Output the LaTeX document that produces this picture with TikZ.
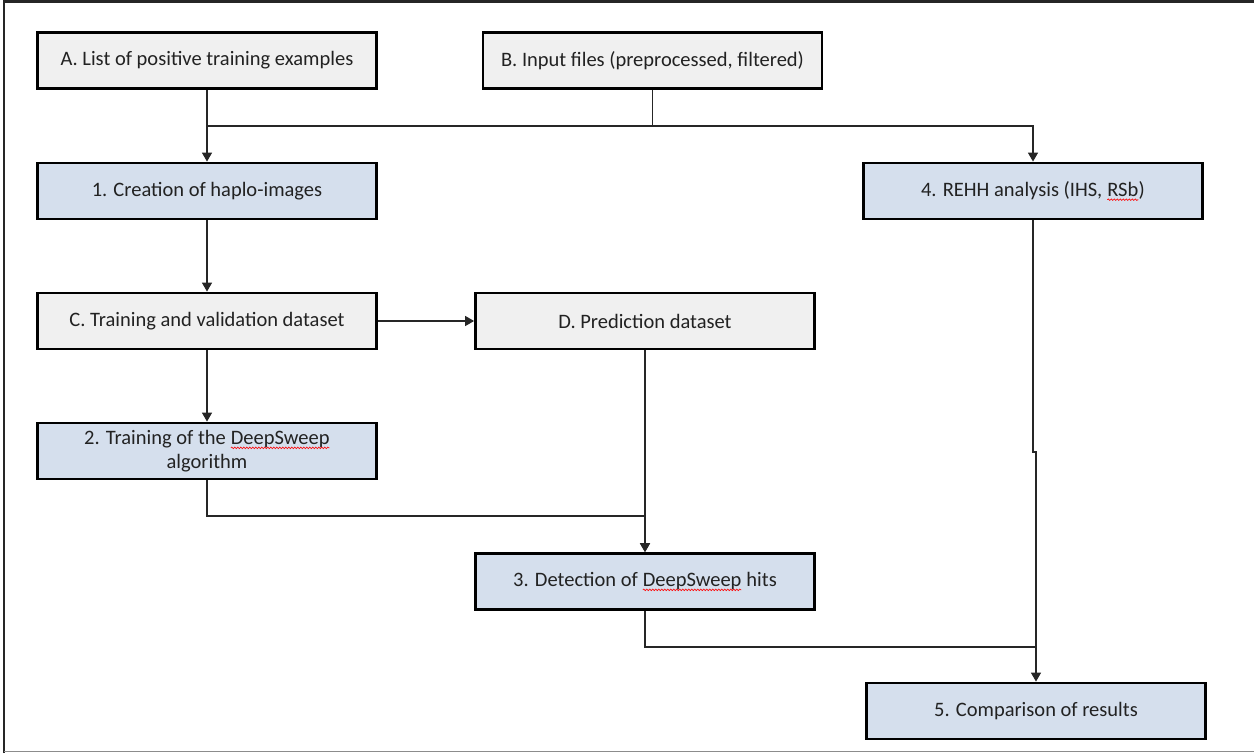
\documentclass[tikz,border=0pt]{standalone}
\usepackage{fontspec}
\setmainfont{Carlito}
\usetikzlibrary{arrows.meta,decorations.pathmorphing}
\definecolor{boxgray}{HTML}{F0F0F0}
\definecolor{boxblue}{HTML}{D5DFED}
\definecolor{txt}{HTML}{222222}
\newcommand{\spellerr}[1]{\tikz[baseline=(w.base)]{\node[inner sep=0pt,outer sep=0pt,minimum width=0pt,minimum height=0pt,draw=none,fill=none] (w) {#1};\draw[red,line width=0.6pt,decorate,decoration={snake,amplitude=0.8pt,segment length=3pt}] ([yshift=-3.5pt]w.base west) -- ([yshift=-3.5pt]w.base east);}}
\begin{document}
\begin{tikzpicture}[x=1pt,y=-1pt,
  box/.style={draw=black,line width=2.8pt,minimum width=339pt,minimum height=56pt,inner sep=2pt,align=center,text=txt,font=\fontsize{20.5}{24}\selectfont},
  gbox/.style={box,fill=boxgray},
  bbox/.style={box,fill=boxblue},
  conn/.style={draw=black!85,line width=1.4pt,-{Triangle[length=9pt,width=10pt]}},
  plain/.style={draw=black!85,line width=1.4pt}]
\useasboundingbox (0,0) rectangle (1254,753);
\draw[line width=2.8pt,black!85] (4,753) -- (4,1.4) -- (1254,1.4);
\draw[line width=1.4pt,black!45] (4,751.5) -- (1254,751.5);
\node[gbox] (A) at (207,60.5) {A. List of positive training examples};
\node[gbox] (B) at (652.5,60.5) {B. Input files (preprocessed, filtered)};
\node[bbox] (n1) at (207,191) {1. Creation of haplo-images};
\node[bbox] (n4) at (1033,191) {4. REHH analysis (IHS, \spellerr{RSb})};
\node[gbox] (C) at (207,321) {C. Training and validation dataset};
\node[gbox] (D) at (645,321) {D. Prediction dataset};
\node[bbox] (n2) at (207,451) {2. Training of the \spellerr{DeepSweep}\\algorithm};
\node[bbox] (n3) at (645,581.5) {3. Detection of \spellerr{DeepSweep} hits};
\node[bbox] (n5) at (1036,711) {5. Comparison of results};
\coordinate (j1) at (207,126);
\coordinate (j2) at (1033,126);
\coordinate (k) at (1033,452);
\coordinate (c1) at (645,516);
\coordinate (m) at (1036,647);
\draw[conn] (A.south) -- (n1.north);
\draw[plain] (j1) -- (B.south |- j1);
\draw[conn] (B.south) |- (j2) -- (n4.north);
\draw[conn] (n1.south) -- (C.north);
\draw[conn] (C.east) -- (D.west);
\draw[conn] (C.south) -- (n2.north);
\draw[conn] (n2.south) |- (c1) -- (n3.north);
\draw[conn] (D.south) -- (n3.north);
\draw[conn] (n4.south) -- (k) -- (k -| n5.north) -- (n5.north);
\draw[plain] (n3.south) |- (m);
\end{tikzpicture}
\end{document}
